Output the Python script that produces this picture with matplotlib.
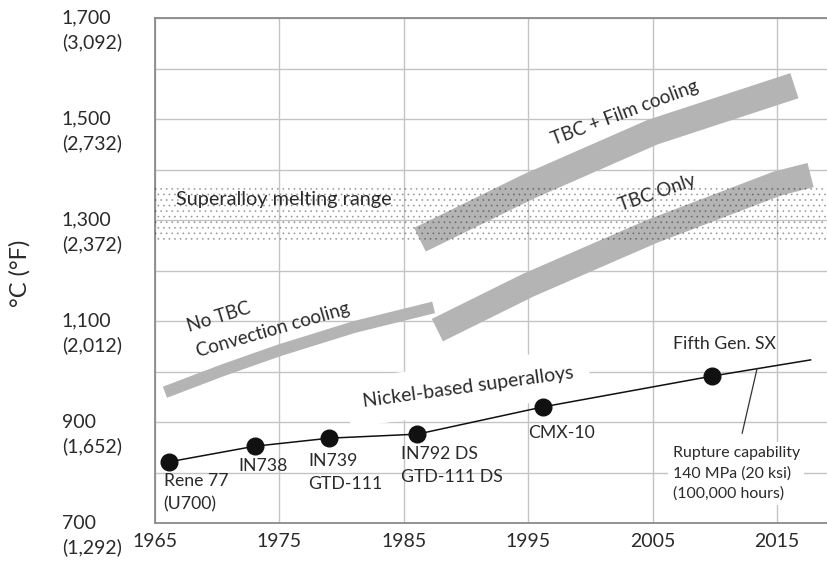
import matplotlib
matplotlib.use('Agg')
import matplotlib.pyplot as plt
import matplotlib.transforms as mtransforms

plt.rcParams['font.family'] = ['Lato', 'DejaVu Sans']
plt.rcParams['hatch.linewidth'] = 0.6

# Nickel-based superalloy milestones (year, temperature in degC)
alloy_years = [1966.1, 1973.0, 1979.0, 1986.1, 1996.2, 2009.8]
alloy_temps = [821, 852, 868, 876, 930, 991]
alloy_names = ['Rene 77\n(U700)', 'IN738', 'IN739\nGTD-111', 'IN792 DS\nGTD-111 DS',
               'CMX-10', 'Fifth Gen. SX']
trend_end_year = 2017.7
trend_end_temp = 1023

# Cooling technology bands
no_tbc_years = [1965.8, 1970.5, 1975.0, 1981.0, 1987.4]
no_tbc_temps = [959, 1003, 1042, 1088, 1127]
tbc_only_years = [1987.7, 1995.0, 2005.0, 2015.0, 2017.7]
tbc_only_temps = [1082, 1171, 1278, 1372, 1389]
tbc_film_years = [1986.3, 1995.0, 2005.0, 2016.4]
tbc_film_temps = [1261, 1366, 1474, 1566]

melt_low, melt_high = 1255, 1365

y_ticks = [700, 900, 1100, 1300, 1500, 1700]
y_labels = ['700\n(1,292)', '900\n(1,652)', '1,100\n(2,012)', '1,300\n(2,372)',
            '1,500\n(2,732)', '1,700\n(3,092)']
x_ticks = [1965, 1975, 1985, 1995, 2005, 2015]

text_c = '#2a2a2a'
band_c = '#b4b4b4'

fig = plt.figure(figsize=(8.28, 5.65), dpi=100)
ax = fig.add_axes([0.1872, 0.0743, 0.8128, 0.8938])
ax.set_xlim(1965, 2019.1)
ax.set_ylim(700, 1700)

# grid
ax.set_yticks(range(700, 1701, 100), minor=True)
ax.grid(True, which='minor', axis='y', color='#c4c4c4', lw=1.0, zorder=0)
ax.grid(True, which='major', color='#c4c4c4', lw=1.0, zorder=0)
ax.set_axisbelow(True)
ax.set_yticks(y_ticks)
ax.set_yticklabels(y_labels, ha='left', va='top', linespacing=1.46)
ax.set_xticks(x_ticks)
ax.tick_params(axis='y', which='both', length=0, pad=67, labelsize=14, labelcolor=text_c)
ax.tick_params(axis='x', length=0, pad=7, labelsize=14, labelcolor=text_c)
# lift the two-line labels so the degC line sits on its gridline
lift = mtransforms.ScaledTranslation(0, 8.5 / 100, fig.dpi_scale_trans)
for lab in ax.get_yticklabels():
    lab.set_transform(lab.get_transform() + lift)
ax.spines['right'].set_visible(False)
for s in ['left', 'top', 'bottom']:
    ax.spines[s].set_color('#8a8a8a')
    ax.spines[s].set_linewidth(1.3)
ax.set_ylabel('°C (°F)', fontsize=17, color=text_c, va='center')
ax.yaxis.set_label_coords(-0.2006, 0.495)

# bands
ax.plot(no_tbc_years, no_tbc_temps, color=band_c, lw=8.5, solid_capstyle='butt',
        solid_joinstyle='round', zorder=3)
ax.plot(tbc_only_years, tbc_only_temps, color=band_c, lw=18, solid_capstyle='butt',
        solid_joinstyle='round', zorder=3)
ax.plot(tbc_film_years, tbc_film_temps, color=band_c, lw=19, solid_capstyle='butt',
        solid_joinstyle='round', zorder=3)

# melting range, dotted
ax.fill_between([1965, 2019.1], melt_low, melt_high, facecolor='none',
                edgecolor=(0, 0, 0, 0.28), hatch='...', lw=0, zorder=4)

# superalloy trend line
ax.plot(alloy_years + [trend_end_year], alloy_temps + [trend_end_temp],
        color='#111111', lw=1.1, zorder=5)
ax.plot(alloy_years, alloy_temps, 'o', color='#111111', ms=12, zorder=6)

# labels
label_pos = [(1965.7, 799), (1971.7, 829), (1977.3, 839), (1984.8, 852),
             (1995.0, 894), (2006.6, 1070)]
for name, (lx, ly) in zip(alloy_names, label_pos):
    ax.text(lx, ly, name, fontsize=12.7, color=text_c, ha='left',
            va='top', linespacing=1.55, zorder=7)

ax.text(2006.6, 852, 'Rupture capability\n140 MPa (20 ksi)\n(100,000 hours)',
        fontsize=11.4, color=text_c, ha='left', va='top', linespacing=1.5,
        bbox=dict(boxstyle='square,pad=0.3', fc='white', ec='none'), zorder=4)
ax.plot([2012.2, 2013.4], [878, 1006], color='#333333', lw=0.9, zorder=5)

ax.text(1990.2, 969, 'Nickel-based superalloys', fontsize=14, color=text_c,
        rotation=7.8, ha='center', va='center', rotation_mode='anchor',
        bbox=dict(boxstyle='square,pad=0.8', fc='white', ec='none'), zorder=2)

ax.text(1966.7, 1340, 'Superalloy melting range', fontsize=14.3, color=text_c,
        ha='left', va='center', zorder=7)
ax.text(1970.1, 1108, 'No TBC', fontsize=13.5, color=text_c, rotation=17,
        ha='center', va='center', rotation_mode='anchor', zorder=7)
ax.text(1974.5, 1082, 'Convection cooling', fontsize=13.5, color=text_c, rotation=16,
        ha='center', va='center', rotation_mode='anchor', zorder=7)
ax.text(2002.8, 1512, 'TBC + Film cooling', fontsize=13.5, color=text_c, rotation=20.5,
        ha='center', va='center', rotation_mode='anchor', zorder=7)
ax.text(2005.4, 1353, 'TBC Only', fontsize=13.5, color=text_c, rotation=19,
        ha='center', va='center', rotation_mode='anchor', zorder=7)

fig.savefig('out.png', dpi=100)
